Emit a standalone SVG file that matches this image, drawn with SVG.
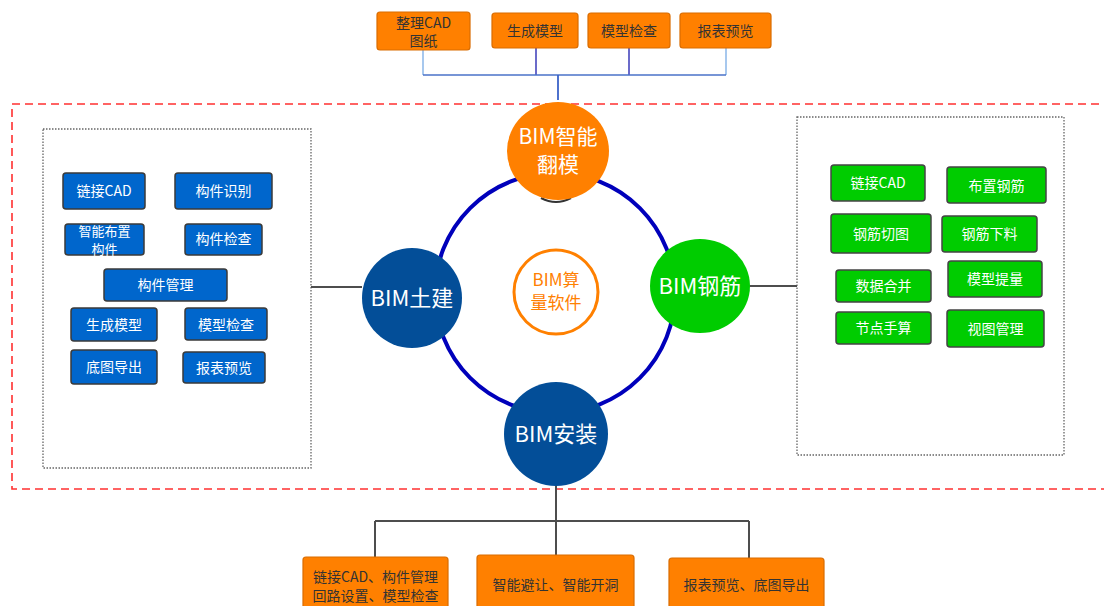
<svg xmlns="http://www.w3.org/2000/svg" width="1104" height="606" viewBox="0 0 1104 606">
  <style>
    text { font-family: "Noto Sans CJK SC", "Liberation Sans", sans-serif; text-anchor: middle; }
    .t14 { font-size: 14px; }
    .dark { fill: #333333; }
    .white { fill: #ffffff; }
    .orange-box { fill: #ff8000; stroke: #d96c00; stroke-width: 1.2; }
    .blue-box { fill: #0066cc; stroke: #3a3a3a; stroke-width: 1.5; }
    .green-box { fill: #00cc00; stroke: #444444; stroke-width: 1.5; }
    .panel { fill: none; stroke: #666666; stroke-width: 1.3; stroke-dasharray: 1.5 1.5; }
    .gray-link { fill: none; stroke: #4d4d4d; stroke-width: 2; }
    .big { font-size: 22px; fill: #ffffff; }
  </style>

  <!-- outer red dashed frame -->
  <rect x="12" y="104" width="1110" height="385" fill="none" stroke="#ff3030" stroke-width="1.6" stroke-dasharray="8 5"/>

  <!-- side panels -->
  <rect class="panel" x="43" y="129" width="268" height="339"/>
  <rect class="panel" x="797" y="117" width="267" height="338"/>

  <g id="connectors">
    <!-- top tree -->
    <path d="M423 50 V75" stroke="#8ab6e8" stroke-width="1.5" fill="none"/>
    <path d="M726 48 V75" stroke="#8ab6e8" stroke-width="1.5" fill="none"/>
    <path d="M536 48 V75" stroke="#3a3ab8" stroke-width="1.5" fill="none"/>
    <path d="M629 48 V75" stroke="#3a3ab8" stroke-width="1.5" fill="none"/>
    <path d="M423 75 H726" stroke="#4a72c8" stroke-width="1.5" fill="none"/>
    <path d="M558 75 V100" stroke="#3a62c8" stroke-width="1.8" fill="none"/>
    <!-- side links -->
    <path class="gray-link" d="M311 287 H362"/>
    <path class="gray-link" d="M750 286 H797"/>
    <!-- bottom tree -->
    <path class="gray-link" d="M556 486 V521"/>
    <path class="gray-link" d="M375 521 H749"/>
    <path class="gray-link" d="M375 521 V557"/>
    <path class="gray-link" d="M556 521 V555"/>
    <path class="gray-link" d="M749 521 V558"/>
    <!-- ring -->
    <circle cx="555" cy="293" r="120" fill="none" stroke="#0000bb" stroke-width="4"/>
    <path d="M541 198 Q556 206 571 198" fill="none" stroke="#333333" stroke-width="2"/>
  </g>

  <!-- top orange boxes -->
  <g id="top-cad">
    <rect class="orange-box" x="377" y="12" width="93" height="38" rx="3"/>
    <text class="t14 dark" x="423.5" y="28">整理CAD</text>
    <text class="t14 dark" x="423.5" y="46">图纸</text>
  </g>
  <g id="top-model">
    <rect class="orange-box" x="492" y="13" width="86" height="35" rx="3"/>
    <text class="t14 dark" x="535" y="36">生成模型</text>
  </g>
  <g id="top-check">
    <rect class="orange-box" x="588" y="13" width="82" height="35" rx="3"/>
    <text class="t14 dark" x="629" y="36">模型检查</text>
  </g>
  <g id="top-report">
    <rect class="orange-box" x="680" y="13" width="91" height="35" rx="3"/>
    <text class="t14 dark" x="725.5" y="36">报表预览</text>
  </g>

  <!-- hub circles -->
  <g id="hub-center">
    <circle cx="556" cy="292" r="42" fill="#ffffff" stroke="#ff8000" stroke-width="3"/>
    <text x="556" y="286" font-size="17" fill="#ff8000">BIM算</text>
    <text x="556" y="309" font-size="17" fill="#ff8000">量软件</text>
  </g>
  <g id="hub-model">
    <ellipse cx="558" cy="151" rx="51" ry="49" fill="#ff8000"/>
    <text x="558" y="144" font-size="21" fill="#ffffff">BIM智能</text>
    <text x="558" y="172" font-size="21" fill="#ffffff">翻模</text>
  </g>
  <g id="hub-civil">
    <circle cx="412" cy="298" r="50" fill="#034e98"/>
    <text class="big" x="412" y="306">BIM土建</text>
  </g>
  <g id="hub-rebar">
    <ellipse cx="700" cy="286" rx="50" ry="47" fill="#00cc00"/>
    <text class="big" x="700" y="294">BIM钢筋</text>
  </g>
  <g id="hub-install">
    <circle cx="556" cy="434" r="52" fill="#034e98"/>
    <text class="big" x="556" y="442">BIM安装</text>
  </g>

  <!-- civil panel items -->
  <g id="civil-cad"><rect class="blue-box" x="63" y="173" width="82" height="36" rx="3"/><text class="t14 white" x="104" y="196">链接CAD</text></g>
  <g id="civil-identify"><rect class="blue-box" x="175" y="173" width="97" height="36" rx="3"/><text class="t14 white" x="223.5" y="196">构件识别</text></g>
  <g id="civil-place"><rect class="blue-box" x="65" y="224" width="79" height="31" rx="3"/><text x="104.5" y="236" font-size="13" fill="#ffffff">智能布置</text><text x="104.5" y="254" font-size="13" fill="#ffffff">构件</text></g>
  <g id="civil-check"><rect class="blue-box" x="185" y="224" width="77" height="31" rx="3"/><text class="t14 white" x="223.5" y="244">构件检查</text></g>
  <g id="civil-manage"><rect class="blue-box" x="104" y="269" width="123" height="32" rx="3"/><text class="t14 white" x="165.5" y="290">构件管理</text></g>
  <g id="civil-model"><rect class="blue-box" x="71" y="308" width="86" height="33" rx="3"/><text class="t14 white" x="114" y="330">生成模型</text></g>
  <g id="civil-modelcheck"><rect class="blue-box" x="185" y="308" width="82" height="32" rx="3" stroke="#111111"/><text class="t14 white" x="226" y="330">模型检查</text></g>
  <g id="civil-export"><rect class="blue-box" x="71" y="350" width="86" height="34" rx="3"/><text class="t14 white" x="114" y="372">底图导出</text></g>
  <g id="civil-report"><rect class="blue-box" x="183" y="352" width="82" height="31" rx="3" stroke="#111111"/><text class="t14 white" x="224" y="373">报表预览</text></g>

  <!-- rebar panel items -->
  <g id="rebar-cad"><rect class="green-box" x="831" y="165" width="94" height="36" rx="3"/><text class="t14 white" x="878" y="188">链接CAD</text></g>
  <g id="rebar-place"><rect class="green-box" x="947" y="167" width="99" height="36" rx="3"/><text class="t14 white" x="996.5" y="191">布置钢筋</text></g>
  <g id="rebar-cut"><rect class="green-box" x="831" y="214" width="100" height="39" rx="3"/><text class="t14 white" x="881" y="239">钢筋切图</text></g>
  <g id="rebar-blank"><rect class="green-box" x="942" y="216" width="95" height="36" rx="3"/><text class="t14 white" x="989.5" y="239">钢筋下料</text></g>
  <g id="rebar-merge"><rect class="green-box" x="836" y="270" width="95" height="32" rx="3"/><text class="t14 white" x="883.5" y="291">数据合并</text></g>
  <g id="rebar-qty"><rect class="green-box" x="948" y="261" width="94" height="36" rx="3"/><text class="t14 white" x="995" y="284">模型提量</text></g>
  <g id="rebar-node"><rect class="green-box" x="836" y="312" width="95" height="32" rx="3"/><text class="t14 white" x="883.5" y="333">节点手算</text></g>
  <g id="rebar-view"><rect class="green-box" x="947" y="310" width="97" height="37" rx="3"/><text class="t14 white" x="995.5" y="334">视图管理</text></g>

  <!-- bottom orange boxes -->
  <g id="install-circuit">
    <rect class="orange-box" x="303" y="557" width="145" height="60" rx="3"/>
    <text class="t14 dark" x="375.5" y="582">链接CAD、构件管理</text>
    <text class="t14 dark" x="375.5" y="601">回路设置、模型检查</text>
  </g>
  <g id="install-avoid">
    <rect class="orange-box" x="477" y="555" width="157" height="60" rx="3"/>
    <text class="t14 dark" x="555.5" y="590">智能避让、智能开洞</text>
  </g>
  <g id="install-report">
    <rect class="orange-box" x="669" y="558" width="155" height="60" rx="3"/>
    <text class="t14 dark" x="746.5" y="590">报表预览、底图导出</text>
  </g>
</svg>
